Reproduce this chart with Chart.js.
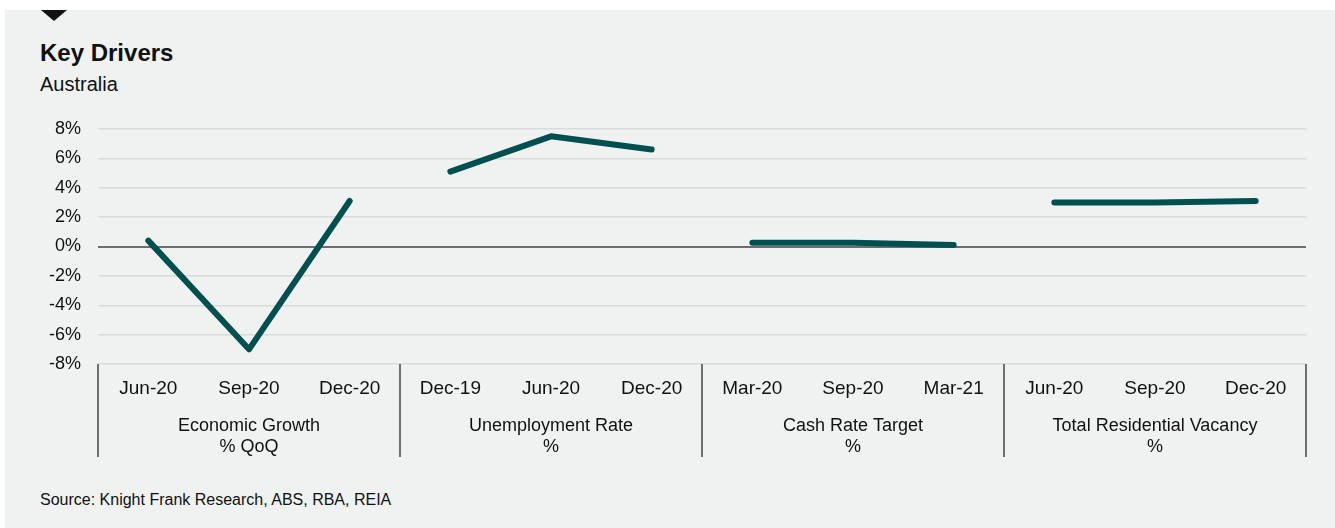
<!DOCTYPE html>
<html>
<head>
<meta charset="utf-8">
<script src="https://cdn.jsdelivr.net/npm/chart.js@4.4.1/dist/chart.umd.min.js"></script>
<style>
  body { margin: 0; background: #ffffff; width: 1335px; height: 528px; overflow: hidden; font-family: "Liberation Sans", Arial, sans-serif; }
  #panel { position: absolute; left: 5px; top: 10px; width: 1330px; height: 518px; background: #eff2f1; }
  #marker { position: absolute; left: 41px; top: 10px; width: 0; height: 0;
            border-left: 13px solid transparent; border-right: 13px solid transparent; border-top: 11px solid #111; }
  .txt { position: absolute; left: 40px; line-height: 1; color: #111; white-space: nowrap; }
  #title { top: 41px; font-size: 24px; font-weight: bold; }
  #subtitle { top: 74px; font-size: 20px; }
  #source { top: 492px; font-size: 16px; }
  #wrap { position: absolute; left: 0; top: 0; width: 1335px; height: 528px; }
</style>
</head>
<body>
<div id="panel"></div>
<div id="marker"></div>
<div id="title" class="txt">Key Drivers</div>
<div id="subtitle" class="txt">Australia</div>
<div id="source" class="txt">Source: Knight Frank Research, ABS, RBA, REIA</div>
<div id="wrap"><canvas id="chart"></canvas></div>
<script>
// Categories (3 per indicator)
const categories = ['Jun-20', 'Sep-20', 'Dec-20', 'Dec-19', 'Jun-20', 'Dec-20',
                    'Mar-20', 'Sep-20', 'Mar-21', 'Jun-20', 'Sep-20', 'Dec-20'];
const groupNames = [['Economic Growth', '% QoQ'], ['Unemployment Rate', '%'],
                    ['Cash Rate Target', '%'], ['Total Residential Vacancy', '%']];

// Series values (%)
const economicGrowth = [0.4, -7.0, 3.1];
const unemploymentRate = [5.1, 7.5, 6.6];
const cashRateTarget = [0.25, 0.25, 0.1];
const residentialVacancy = [3.0, 3.0, 3.1];

// y ticks
const yTicks = { min: -8, max: 8, step: 2 };

const lineColor = '#01504f';
const seriesList = [economicGrowth, unemploymentRate, cashRateTarget, residentialVacancy];

// pad each series with nulls so it only sits in its own group
const datasets = seriesList.map((vals, g) => {
  const data = categories.map(() => null);
  vals.forEach((v, i) => { data[g * 3 + i] = v; });
  return {
    label: groupNames[g][0],
    data: data,
    borderColor: lineColor,
    backgroundColor: lineColor,
    borderWidth: 6,
    borderCapStyle: 'round',
    borderJoinStyle: 'round',
    pointRadius: 0,
    tension: 0,
    spanGaps: false
  };
});

// draws the group separators and group names under the x axis
const groupLabels = {
  id: 'groupLabels',
  afterDraw(chart) {
    const ctx = chart.ctx;
    const x = chart.scales.x;
    const area = chart.chartArea;
    const w = x.width / categories.length;
    ctx.save();
    ctx.strokeStyle = '#6f6f6f';
    ctx.lineWidth = 2;
    for (let g = 0; g <= groupNames.length; g++) {
      const px = Math.round(x.left + g * 3 * w);
      ctx.beginPath();
      ctx.moveTo(px, area.bottom);
      ctx.lineTo(px, 457);
      ctx.stroke();
    }
    ctx.fillStyle = '#111';
    ctx.font = '18px "Liberation Sans", Arial, sans-serif';
    ctx.textAlign = 'center';
    ctx.textBaseline = 'alphabetic';
    groupNames.forEach((lines, g) => {
      const cx = (x.getPixelForValue(g * 3) + x.getPixelForValue(g * 3 + 2)) / 2;
      ctx.fillText(lines[0], cx, 431);
      ctx.fillText(lines[1], cx, 452);
    });
    ctx.restore();
  }
};

new Chart(document.getElementById('chart'), {
  type: 'line',
  data: { labels: categories, datasets: datasets },
  options: {
    responsive: true,
    maintainAspectRatio: false,
    animation: false,
    layout: { padding: { left: 0, top: 129, right: 29, bottom: 0 } },
    plugins: { legend: { display: false }, tooltip: { enabled: false } },
    scales: {
      x: {
        offset: true,
        grid: { display: false, drawTicks: false },
        border: { display: false },
        ticks: {
          color: '#111',
          padding: 13,
          maxRotation: 0,
          autoSkip: false,
          font: { family: '"Liberation Sans", Arial, sans-serif', size: 19 }
        },
        afterFit(scale) { scale.height = 164; }
      },
      y: {
        min: yTicks.min,
        max: yTicks.max,
        grid: {
          drawTicks: false,
          color: c => c.tick && c.tick.value === 0 ? '#6d6d6d' : '#d8dbda',
          lineWidth: c => c.tick && c.tick.value === 0 ? 2 : 1.5
        },
        border: { display: false },
        ticks: {
          stepSize: yTicks.step,
          color: '#111',
          padding: 17,
          font: { family: '"Liberation Sans", Arial, sans-serif', size: 18 },
          callback: v => v + '%'
        },
        afterFit(scale) { scale.width = 98; }
      }
    }
  },
  plugins: [groupLabels]
});
</script>
</body>
</html>
